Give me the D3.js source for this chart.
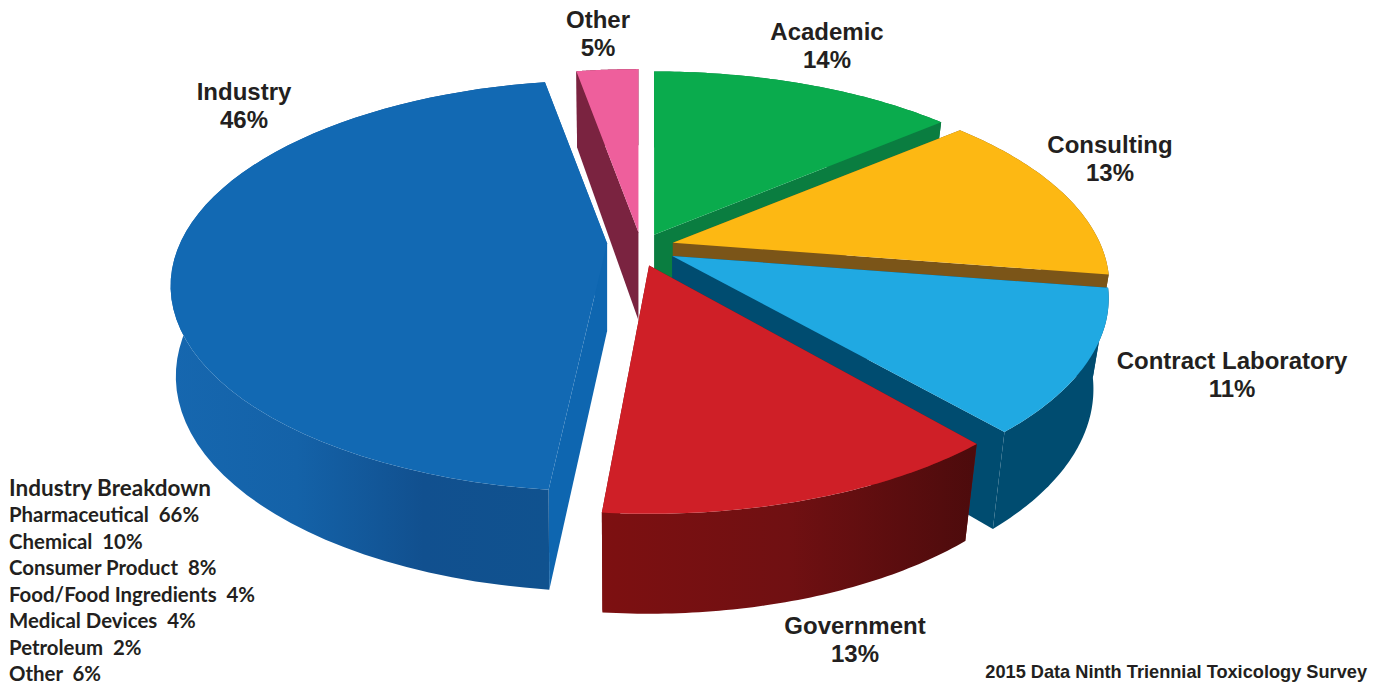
<!DOCTYPE html>
<html>
<head>
<meta charset="utf-8">
<script src="https://d3js.org/d3.v7.min.js"></script>
<style>
  html, body { margin: 0; background: #fff; }
  svg { display: block; }
  text { white-space: pre; }
  .slice-label { font: bold 24px "Liberation Sans", Arial, sans-serif; fill: #231f20; text-anchor: middle; }
  .breakdown { font-family: Lato, sans-serif; font-weight: 700; fill: #231f20; }
  .source { font: bold 18.2px "Liberation Sans", Arial, sans-serif; fill: #231f20; text-anchor: end; }
</style>
</head>
<body>
<svg id="chart" width="1376" height="687"></svg>
<script>
const categories = ['Academic', 'Consulting', 'Contract Laboratory', 'Government', 'Industry', 'Other'];
const percents = [14, 13, 11, 13, 46, 5];
// wedge widths as they are drawn in the picture (they do not follow the labels exactly)
const drawnShares = [13.8, 13.7, 11.1, 12.8, 45.8, 2.8];
const breakdownNames = ['Pharmaceutical', 'Chemical', 'Consumer Product', 'Food/Food Ingredients', 'Medical Devices', 'Petroleum', 'Other'];
const breakdownValues = [66, 10, 8, 4, 4, 2, 6];

// styling and layout, same order as categories
const topColors = ['#0aab4d', '#fdb813', '#20a9e2', '#cf1f27', '#1269b3', '#ee5f9c'];
const faceColors = ['#0a7d40', '#7b5518', '#004c70', '#7a1012', '#0e66b0', '#7a2340'];
const wallStops = [
  ['#0a7d40', '#0a7d40'],
  ['#7b5518', '#7b5518'],
  ['#004c70', '#004c70'],
  ['#7d1011', '#701012', '#4c0b0c'],
  ['#1667af', '#1462a8', '#11508f', '#10528f'],
  ['#7a2340', '#7a2340']
];
const explode = [24, 31, 30, 23, 38, 29];
const nudge = [[-1, 1], [-2, -1], [1, -5], [-3, -1], [0, -8], [-4, 4]];
const startTrim = [0, 0, 0, 0.8, 1.2, 0]; // degrees
const drawOrder = [5, 0, 1, 2, 4, 3];
const labelAt = [[827, 40], [1110, 153], [1232, 369], [855, 634], [244, 100], [598, 28]];

const cx = 645, cy = 250;
const radiusX = 427, radiusY = 197, persp = 0.207, depth = 88, explodeY = 0.75;

const svg = d3.select('#chart');
const defs = svg.append('defs');

const pie = d3.pie().sort(null).startAngle(0).endAngle(2 * Math.PI);
const arcs = pie(drawnShares);

const line = d3.line();

function project(apex, angle, radius, h) {
  const u = Math.sin(angle) * radius, v = -Math.cos(angle) * radius;
  const f = 1 / (1 - persp * v);
  const shrink = u > 0 ? 0.035 : 0.012;
  return [
    apex[0] + radiusX * u * f * (1 - shrink * h),
    apex[1] + radiusY * v * f + h * depth * (1 + 0.135 * v)
  ];
}

const slices = arcs.map((a, i) => {
  const mid = (a.startAngle + a.endAngle) / 2;
  const apex = [
    cx + explode[i] * Math.sin(mid) + nudge[i][0],
    cy - explode[i] * explodeY * Math.cos(mid) + nudge[i][1]
  ];
  const start = a.startAngle + startTrim[i] * Math.PI / 180;
  const angles = d3.range(0, 61).map(d3.scaleLinear().domain([0, 60]).range([start, a.endAngle]));
  return { i, apex, angles, start, end: a.endAngle };
});

const g = svg.selectAll('g.slice')
  .data(drawOrder.map(i => slices[i]))
  .join('g')
  .attr('class', 'slice');

// side walls first, the top of the slice goes over them
g.each(function (s) {
  const sel = d3.select(this);
  const rimTop = s.angles.map(a => project(s.apex, a, 1, 0));
  const rimBottom = s.angles.map(a => project(s.apex, a, 1, 1)).reverse();
  const xExt = d3.extent(rimTop, d => d[0]);
  const id = 'wall' + s.i;
  const grad = defs.append('linearGradient').attr('id', id)
    .attr('gradientUnits', 'userSpaceOnUse')
    .attr('x1', xExt[0]).attr('x2', xExt[1]).attr('y1', 0).attr('y2', 0);
  grad.selectAll('stop').data(wallStops[s.i]).join('stop')
    .attr('offset', (d, k) => k / (wallStops[s.i].length - 1))
    .attr('stop-color', d => d);

  const centerTop = project(s.apex, 0, 0, 0), centerBottom = project(s.apex, 0, 0, 1);
  [s.start, s.end].forEach(a => {
    sel.append('path')
      .attr('d', line([centerTop, project(s.apex, a, 1, 0), project(s.apex, a, 1, 1), centerBottom]) + 'Z')
      .attr('fill', faceColors[s.i]);
  });
  sel.append('path')
    .attr('d', line(rimTop.concat(rimBottom)) + 'Z')
    .attr('fill', `url(#${id})`);
  sel.append('path')
    .attr('d', line([centerTop].concat(rimTop)) + 'Z')
    .attr('fill', topColors[s.i]);
});

const labels = svg.selectAll('text.slice-label')
  .data(categories)
  .join('text')
  .attr('class', 'slice-label')
  .attr('x', (d, i) => labelAt[i][0])
  .attr('y', (d, i) => labelAt[i][1]);
labels.append('tspan').text(d => d);
labels.append('tspan')
  .attr('x', (d, i) => labelAt[i][0])
  .attr('dy', 28)
  .text((d, i) => percents[i] + '%');

svg.append('text').attr('class', 'breakdown')
  .attr('x', 9).attr('y', 496).attr('font-size', 22.5)
  .text('Industry Breakdown');

const rowY = d3.scalePoint().domain(breakdownNames.map((d, i) => i)).range([522, 681]);
svg.selectAll('text.row')
  .data(breakdownNames)
  .join('text')
  .attr('class', 'breakdown row')
  .attr('x', 9)
  .attr('y', (d, i) => rowY(i))
  .attr('font-size', 20.4)
  .text((d, i) => d + '  ' + breakdownValues[i] + '%');

svg.append('text').attr('class', 'source')
  .attr('x', 1367).attr('y', 678)
  .text('2015 Data Ninth Triennial Toxicology Survey');
</script>
</body>
</html>
